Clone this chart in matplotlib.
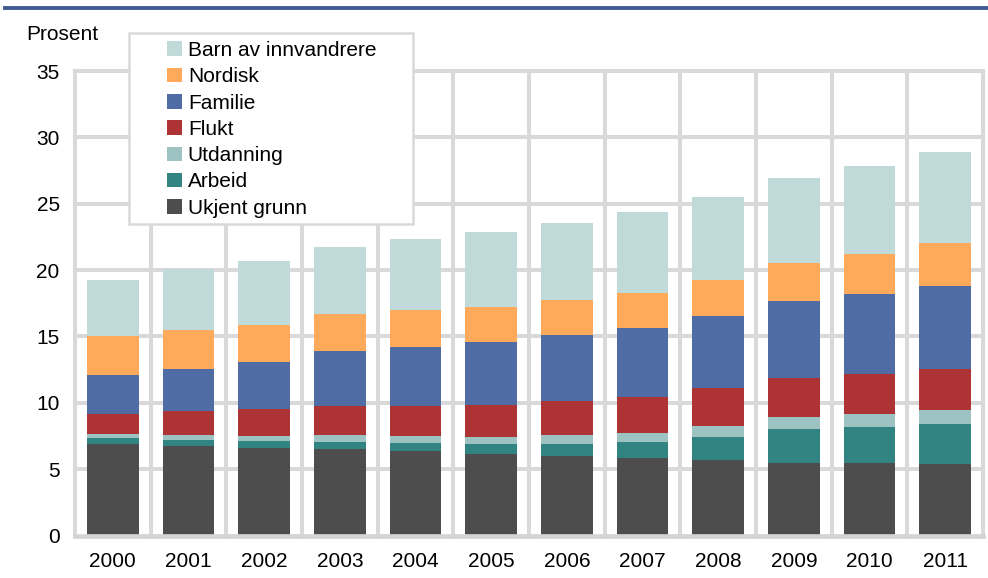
import matplotlib
matplotlib.use("Agg")
import matplotlib.pyplot as plt
import matplotlib.patches as patches
import numpy as np

plt.rcParams['font.family'] = ['Liberation Sans', 'DejaVu Sans']

years = ["2000", "2001", "2002", "2003", "2004", "2005",
         "2006", "2007", "2008", "2009", "2010", "2011"]

# Prosent (stacked from bottom)
ukjent = [6.89, 6.74, 6.59, 6.49, 6.36, 6.14, 5.99, 5.84, 5.66, 5.48, 5.48, 5.38]
arbeid = [0.43, 0.45, 0.53, 0.58, 0.61, 0.73, 0.92, 1.20, 1.78, 2.52, 2.67, 2.99]
utdanning = [0.32, 0.38, 0.35, 0.47, 0.52, 0.57, 0.63, 0.68, 0.78, 0.90, 0.98, 1.10]
flukt = [1.53, 1.80, 2.03, 2.24, 2.29, 2.41, 2.59, 2.71, 2.90, 2.98, 3.03, 3.09]
familie = [2.92, 3.19, 3.54, 4.09, 4.44, 4.72, 4.94, 5.22, 5.43, 5.78, 6.05, 6.25]
nordisk = [2.91, 2.91, 2.79, 2.79, 2.76, 2.66, 2.64, 2.63, 2.71, 2.86, 2.99, 3.22]
barn = [4.26, 4.58, 4.84, 5.09, 5.35, 5.62, 5.84, 6.08, 6.23, 6.40, 6.62, 6.85]

series = [
    ("Ukjent grunn", ukjent, "#4D4D4D"),
    ("Arbeid", arbeid, "#328482"),
    ("Utdanning", utdanning, "#9CC3C1"),
    ("Flukt", flukt, "#AE3335"),
    ("Familie", familie, "#4F6DA4"),
    ("Nordisk", nordisk, "#FFAA5A"),
    ("Barn av innvandrere", barn, "#C0D9D9"),
]

GRID = "#D9D9D9"

fig = plt.figure(figsize=(9.88, 5.78), dpi=100)
ax = fig.add_axes([75 / 988, 1 - 535.5 / 578, 908 / 988, (535.5 - 71) / 578])

x = np.arange(len(years))
bottom = np.zeros(len(years))
handles = []
for name, vals, color in series:
    b = ax.bar(x, vals, width=0.685, bottom=bottom, color=color, zorder=2, label=name)
    handles.append(b)
    bottom += np.array(vals)

ax.set_xlim(-0.5, len(years) - 0.5)
ax.set_ylim(0, 35)

# grid: horizontal every 5, vertical between categories
for v in range(5, 40, 5):
    ax.axhline(v, color=GRID, lw=2.9, zorder=1, clip_on=False)
for xv in np.arange(-0.5, len(years), 1.0):
    ax.axvline(xv, color=GRID, lw=2.9, zorder=1, clip_on=False)
ax.axhline(0, color="#D4D4D4", lw=3.4, zorder=3, clip_on=False)

for s in ax.spines.values():
    s.set_visible(False)

ax.set_xticks(x)
ax.set_xticklabels(years)
ax.set_yticks(range(0, 40, 5))
ax.tick_params(axis='both', length=0, labelsize=15, colors='black')
ax.tick_params(axis='y', pad=11)
ax.tick_params(axis='x', pad=12)

fig.text(26 / 988, 1 - 34 / 578, "Prosent", fontsize=15, ha='left', va='center')

# header rule
fig.add_artist(plt.Line2D([5 / 988, 1], [1 - 8 / 578, 1 - 8 / 578],
                          color="#3F5B8F", lw=2.8, transform=fig.transFigure))

# legend frame drawn by hand (content sits off-centre in the original)
frame = patches.Rectangle((129 / 988, 1 - 224 / 578), 284 / 988, 191 / 578,
                          transform=fig.transFigure, facecolor='white',
                          edgecolor=GRID, lw=1.8, zorder=5)
fig.add_artist(frame)

leg = fig.legend(handles[::-1], [s[0] for s in series][::-1],
                 loc='upper left', bbox_to_anchor=(167 / 988, 1 - 41 / 578),
                 frameon=False, fontsize=15, handlelength=0.7, handleheight=0.7,
                 handletextpad=0.3, labelspacing=0.35, borderpad=0, borderaxespad=0)
leg.set_zorder(6)

fig.savefig("out.png", dpi=100)
